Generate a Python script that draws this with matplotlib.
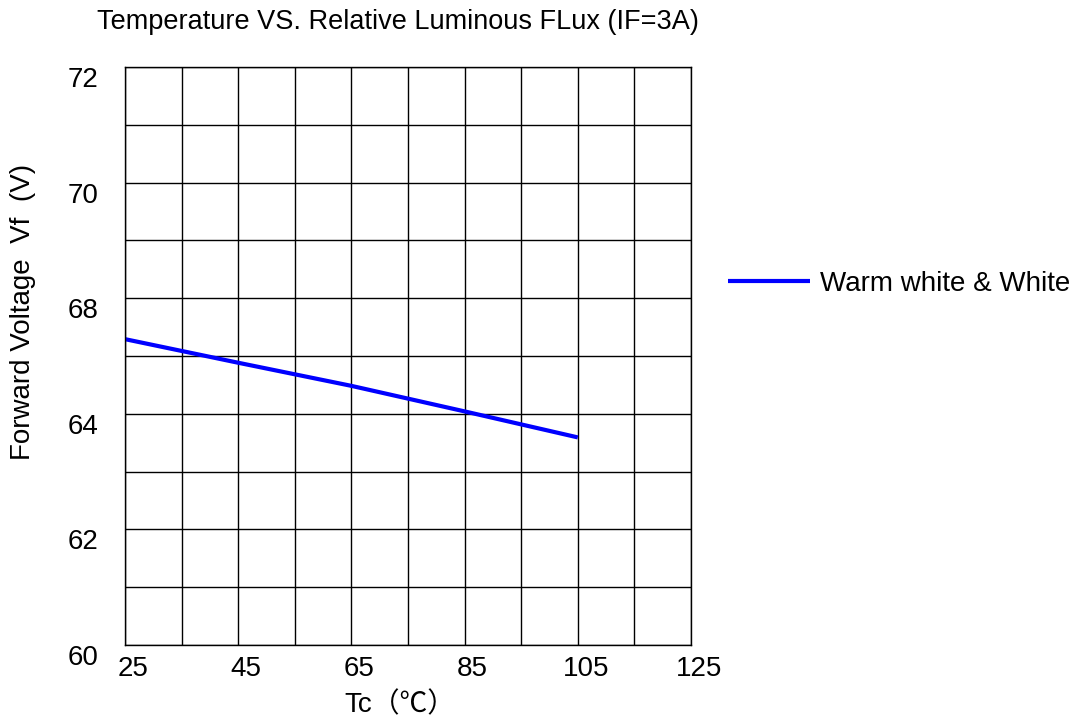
import matplotlib
matplotlib.use("Agg")
import matplotlib.pyplot as plt
import matplotlib.transforms as mtransforms
import numpy as np

# Data
temps = [25, 45, 65, 85, 105]
vf = [66.35, 65.86, 65.38, 64.85, 64.31]
series_label = "Warm white & White"

x_ticks = [25, 45, 65, 85, 105, 125]
y_tick_labels = ["60", "62", "64", "68", "70", "72"]

title = "Temperature VS. Relative Luminous FLux (IF=3A)"
xlabel = "Tc（℃）"
ylabel = "Forward Voltage  Vf  (V)"

plt.rcParams['font.family'] = ['Liberation Sans', 'Noto Sans CJK SC', 'DejaVu Sans']

FS = 20
fig = plt.figure(figsize=(10.86, 7.24), dpi=100)
ax = fig.add_axes([125/1086, 1 - 645/724, (691-125)/1086, (645-67)/724])

ax.plot(temps, vf, color='#0000ff', lw=3, solid_capstyle='butt', label=series_label)

ax.set_xlim(25, 125)
ax.set_ylim(60, 72)
grid_x = np.arange(25, 126, 10)
grid_y = np.linspace(60, 72, 11)
ax.set_xticks(grid_x)
ax.set_yticks(grid_y)
ax.grid(True, color='black', lw=1)
ax.set_axisbelow(True)

ax.set_xticklabels([str(int(t)) if int(t) in x_ticks else "" for t in grid_x])
ylabs = []
k = 0
for i in range(len(grid_y)):
    if i % 2 == 0:
        ylabs.append(y_tick_labels[k]); k += 1
    else:
        ylabs.append("")
ax.set_yticklabels(ylabs)
ax.tick_params(axis='both', length=0, labelsize=FS)
ax.tick_params(axis='x', pad=8)
ax.tick_params(axis='y', pad=19)

off = mtransforms.ScaledTranslation(0, -10/100, fig.dpi_scale_trans)
for lab in ax.get_yticklabels():
    lab.set_transform(lab.get_transform() + off)
off2 = mtransforms.ScaledTranslation(8/100, 0, fig.dpi_scale_trans)
for lab in ax.get_xticklabels():
    lab.set_transform(lab.get_transform() + off2)

for s in ax.spines.values():
    s.set_color('black')
    s.set_linewidth(1)

fig.text(97/1086, 1 - 22/724, title, fontsize=19.5, ha='left', va='center')
fig.text(23/1086, 1 - 312/724, ylabel, fontsize=FS, rotation=90, ha='center', va='center')
fig.text(400/1086, 1 - 705/724, xlabel, fontsize=FS, ha='center', va='center')

ax.legend(loc='center left', bbox_to_anchor=(728/1086, 1 - 284/724),
          bbox_transform=fig.transFigure, frameon=False, fontsize=FS,
          handlelength=2.95, handletextpad=0.36, borderaxespad=0, borderpad=0)

fig.savefig("out.png", dpi=100)
